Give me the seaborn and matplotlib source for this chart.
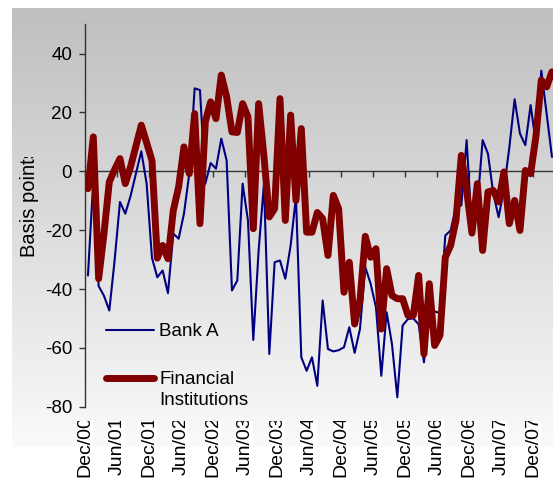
import numpy as np
import pandas as pd
import matplotlib
matplotlib.use("Agg")
import matplotlib.pyplot as plt
import seaborn as sns
from matplotlib.colors import LinearSegmentedColormap
from matplotlib.legend_handler import HandlerLine2D
from matplotlib.patches import Rectangle
from matplotlib.transforms import Bbox, TransformedBbox, blended_transform_factory

# Monthly spreads in basis points, Dec/00 onwards
bank_a = [
    -35.4, -3.0, -39.0, -42.3, -47.3, -30.2, -10.4, -14.4, -8.3, -0.7,
    6.8, -4.2, -29.4, -36.0, -33.7, -41.4, -21.2, -22.9, -14.4, -0.8,
    28.2, 27.6, -4.2, 2.8, 0.9, 11.1, 3.7, -40.5, -37.1, -4.2,
    -16.7, -57.3, -26.9, -4.2, -62.1, -30.9, -30.3, -36.5, -25.2, -8.7,
    -63.2, -67.8, -63.2, -72.9, -43.9, -60.4, -61.2, -60.8, -59.8, -53.0,
    -61.7, -53.6, -32.6, -38.2, -46.2, -69.5, -47.9, -58.7, -76.8, -52.4,
    -50.2, -50.0, -52.0, -64.9, -47.3, -47.6, -48.2, -21.8, -20.1, -12.1,
    -11.6, 10.6, -20.0, -12.0, 10.6, 6.0, -7.6, -15.6, -6.0, 8.0,
    24.5, 12.8, 8.9, 22.5, 9.4, 34.2, 19.6, 4.9,
]
financial = [
    -5.9, 11.7, -36.5, -21.2, -3.6, 0.6, 4.3, -4.2, 1.6, 8.6,
    15.7, 9.7, 3.7, -29.5, -25.2, -29.7, -13.3, -5.3, 8.3, -0.8,
    19.6, -17.8, 16.8, 23.6, 17.9, 32.7, 25.3, 13.4, 13.2, 23.0,
    18.5, -19.5, 23.0, 5.0, -15.5, -12.7, 24.7, -16.7, 19.1, -9.9,
    14.5, -20.7, -20.7, -14.0, -16.1, -28.6, -8.2, -12.7, -41.1, -30.9,
    -51.9, -43.9, -22.1, -29.2, -26.3, -53.6, -33.1, -42.2, -43.3, -43.3,
    -49.0, -49.0, -35.4, -62.1, -38.2, -59.2, -55.8, -29.2, -25.2, -16.7,
    5.4, -6.5, -21.0, -4.2, -26.9, -7.0, -6.5, -10.4, -0.2, -17.8,
    -9.9, -20.1, 0.3, -0.8, 12.0, 31.0, 28.7, 33.8,
]
tick_labels = [
    "Dec/00", "Jun/01", "Dec/01", "Jun/02", "Dec/02", "Jun/03", "Dec/03",
    "Jun/04", "Dec/04", "Jun/05", "Dec/05", "Jun/06", "Dec/06", "Jun/07",
    "Dec/07",
]
y_ticks = [-80, -60, -40, -20, 0, 20, 40]

W, H = 553, 479
FS = 13.5
sns.set_theme(style="ticks")
plt.rcParams["font.family"] = ["Liberation Sans", "DejaVu Sans"]
plt.rcParams["text.color"] = "black"


def fx(px):
    return px / W


def fy(py):
    return 1 - py / H


class RaisedLineHandler(HandlerLine2D):
    """Legend line drawn level with the first line of a two-line label."""

    def __init__(self, shift, **kwargs):
        super().__init__(**kwargs)
        self.shift = shift

    def create_artists(self, legend, orig_handle, xdescent, ydescent,
                       width, height, fontsize, trans):
        artists = super().create_artists(legend, orig_handle, xdescent,
                                         ydescent, width, height, fontsize,
                                         trans)
        for art in artists:
            art.set_ydata(np.asarray(art.get_ydata()) + self.shift)
        return artists


fig = plt.figure(figsize=(W / 100, H / 100), dpi=100)
fig.patch.set_facecolor("white")

# Grey gradient panel behind the chart
bg = fig.add_axes([fx(12), fy(447), 1 - fx(12), (447 - 8) / H], zorder=0)
panel_cmap = LinearSegmentedColormap.from_list("panel", ["#bfbfbf", "#fafafa"])
bg.imshow(np.linspace(0, 1, 256)[:, None], aspect="auto", cmap=panel_cmap,
          extent=[0, 1, 0, 1], origin="upper")
bg.set_axis_off()

ax_left, ax_bottom, ax_top = 85.3, 406.7, 24.2
ax = fig.add_axes([fx(ax_left), fy(ax_bottom), 1 - fx(ax_left),
                   (ax_bottom - ax_top) / H], zorder=1)
ax.set_facecolor("none")

df = pd.DataFrame({
    "month": np.arange(len(bank_a)),
    "Bank A": bank_a,
    "Financial Institutions": financial,
})
sns.lineplot(data=df, x="month", y="Bank A", color="#000080", linewidth=1.5,
             label="Bank A", ax=ax, zorder=3)
sns.lineplot(data=df, x="month", y="Financial Institutions", color="#800000",
             linewidth=5, solid_joinstyle="round", solid_capstyle="round",
             label="Financial\nInstitutions", ax=ax, zorder=4)

month_px = 32 / 6
ax.set_xlim(-0.5, -0.5 + (W - ax_left) / month_px)
ax.set_ylim(-80, 50)
ax.set_yticks(y_ticks)
ax.set_yticklabels([str(v) for v in y_ticks])
tick_pos = [-0.5 + 6 * k for k in range(len(tick_labels))]
ax.set_xticks(tick_pos)
ax.set_xticklabels([""] * len(tick_pos))
ax.set_xlabel("")

for side in ("top", "right"):
    ax.spines[side].set_visible(False)
ax.spines["bottom"].set_position(("data", 0))
for side in ("left", "bottom"):
    ax.spines[side].set_color("#333333")
    ax.spines[side].set_linewidth(1.0)
ax.tick_params(axis="both", direction="out", length=4.5, width=1.0,
               color="#333333")
ax.tick_params(axis="y", labelsize=FS, pad=5, labelcolor="black")
ax.grid(False)

# Axis title, cut off at the top like the original layout
ax.set_ylabel("Basis points", fontsize=14.5, color="black")
ylab = ax.yaxis.label
ylab.set_rotation_mode("anchor")
ax.yaxis.set_label_coords((39 - ax_left) / (W - ax_left),
                          (ax_bottom - 257) / (ax_bottom - ax_top))
ylab.set_horizontalalignment("left")
ylab.set_clip_box(TransformedBbox(Bbox([[0, 0], [1, fy(157)]]),
                                  fig.transFigure))
ylab.set_clip_on(True)

# Rotated month labels in white boxes, clipped along their top edge
trans = blended_transform_factory(ax.transData, fig.transFigure)
label_clip = TransformedBbox(Bbox([[0, 0], [1, fy(421)]]), fig.transFigure)
for x, lab in zip(tick_pos, tick_labels):
    fig.add_artist(Rectangle((x - 1.4, fy(447)), 2.8, (447 - 421) / H,
                             transform=trans, facecolor="white",
                             edgecolor="none", zorder=2))
    t = fig.text(x, fy(446), lab, transform=trans, rotation=90,
                 ha="center", va="center", fontsize=14, color="black",
                 zorder=3)
    t.set_clip_box(label_clip)
    t.set_clip_on(True)

handles, labels = ax.get_legend_handles_labels()
leg = ax.legend(handles, labels, loc="upper left",
                bbox_to_anchor=((106 - ax_left) / (W - ax_left),
                                (ax_bottom - 323) / (ax_bottom - ax_top)),
                handler_map={handles[1]: RaisedLineHandler(8.5)},
                frameon=False, fontsize=FS, handlelength=2.55,
                handletextpad=0.28, labelspacing=1.66, borderpad=0,
                borderaxespad=0)
for txt in leg.get_texts():
    txt.set_linespacing(1.3)

fig.savefig("out.png", dpi=100, facecolor="white")
